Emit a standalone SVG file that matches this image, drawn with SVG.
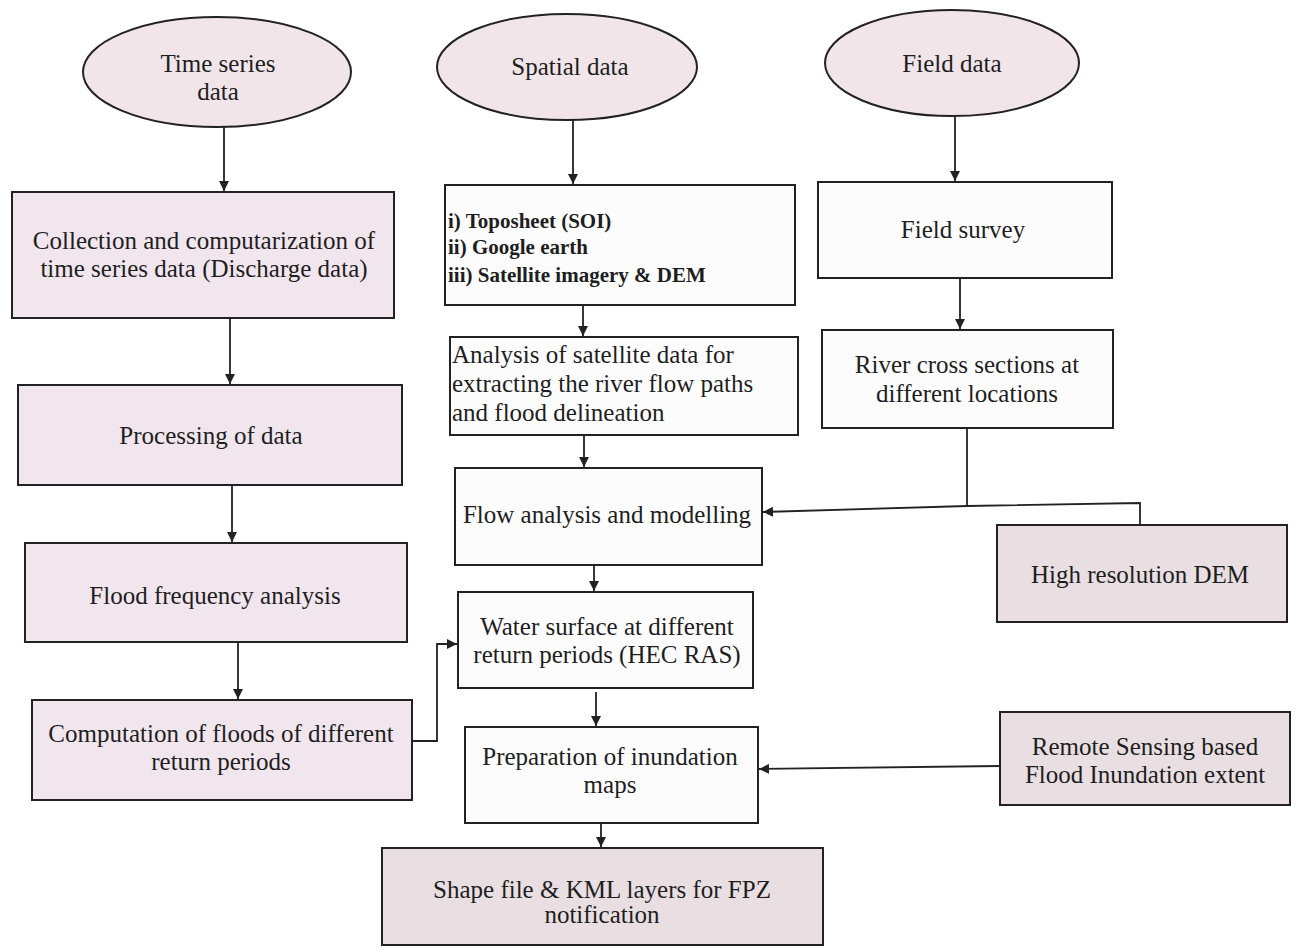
<svg xmlns="http://www.w3.org/2000/svg" width="1298" height="950" viewBox="0 0 1298 950">
<defs>
<style>
.n{stroke:#222;stroke-width:2}
.pk{fill:#f2e6ee}
.el{fill:#f1e5ea}
.gp{fill:#e9dfe2}
.wh{fill:#fdfcfd}
.t{font-family:"Liberation Serif","Times New Roman",serif;font-size:25px;fill:#1e1e1e;text-anchor:middle}
.tl{text-anchor:start}
.tb{font-weight:bold;font-size:21px}
.c{fill:none;stroke:#222;stroke-width:1.8}
</style>
<marker id="ar" viewBox="0 0 10 10" refX="10" refY="5" markerWidth="10" markerHeight="10" markerUnits="userSpaceOnUse" orient="auto">
<path d="M0,0 L10,5 L0,10 z" fill="#222"/>
</marker>
</defs>
<rect width="1298" height="950" fill="#ffffff"/>

<g id="connectors">
<line class="c" x1="224" y1="127" x2="224" y2="191" marker-end="url(#ar)"/>
<line class="c" x1="230" y1="318" x2="230" y2="384" marker-end="url(#ar)"/>
<line class="c" x1="232" y1="485" x2="232" y2="542" marker-end="url(#ar)"/>
<line class="c" x1="238" y1="642" x2="238" y2="699" marker-end="url(#ar)"/>
<polyline class="c" points="412,741 437,741 437,644 457,644" marker-end="url(#ar)"/>
<line class="c" x1="573" y1="120" x2="573" y2="184" marker-end="url(#ar)"/>
<line class="c" x1="583" y1="305" x2="583" y2="336" marker-end="url(#ar)"/>
<line class="c" x1="584" y1="435" x2="584" y2="467" marker-end="url(#ar)"/>
<line class="c" x1="594" y1="565" x2="594" y2="591" marker-end="url(#ar)"/>
<line class="c" x1="596" y1="692" x2="596" y2="726" marker-end="url(#ar)"/>
<line class="c" x1="601" y1="823" x2="601" y2="847" marker-end="url(#ar)"/>
<line class="c" x1="955" y1="117" x2="955" y2="181" marker-end="url(#ar)"/>
<line class="c" x1="960" y1="278" x2="960" y2="329" marker-end="url(#ar)"/>
<line class="c" x1="967" y1="428" x2="967" y2="507"/>
<polyline class="c" points="1140,525 1140,503 967,506 763,512" marker-end="url(#ar)"/>
<line class="c" x1="1000" y1="766" x2="759" y2="769" marker-end="url(#ar)"/>
</g>

<g id="time-series">
<ellipse class="n el" cx="217" cy="72" rx="134" ry="55"/>
<text class="t" x="218" y="72">Time series</text>
<text class="t" x="218" y="100">data</text>
</g>
<g id="spatial">
<ellipse class="n el" cx="567" cy="67" rx="130" ry="53"/>
<text class="t" x="570" y="75">Spatial data</text>
</g>
<g id="field">
<ellipse class="n el" cx="952" cy="63" rx="127" ry="53"/>
<text class="t" x="952" y="72">Field data</text>
</g>

<g id="collection">
<rect class="n pk" x="12" y="192" width="382" height="126"/>
<text class="t" x="204" y="249">Collection and computarization of</text>
<text class="t" x="204" y="277">time series data (Discharge  data)</text>
</g>
<g id="processing">
<rect class="n pk" x="18" y="385" width="384" height="100"/>
<text class="t" x="211" y="444">Processing of data</text>
</g>
<g id="flood-frequency">
<rect class="n pk" x="25" y="543" width="382" height="99"/>
<text class="t" x="215" y="604">Flood frequency analysis</text>
</g>
<g id="computation">
<rect class="n pk" x="32" y="700" width="380" height="100"/>
<text class="t" x="221" y="742">Computation of floods of different</text>
<text class="t" x="221" y="770">return periods</text>
</g>

<g id="toposheet">
<rect class="n wh" x="445" y="185" width="350" height="120"/>
<text class="t tl tb" x="448" y="228">i) Toposheet (SOI)</text>
<text class="t tl tb" x="448" y="254">ii) Google earth</text>
<text class="t tl tb" x="448" y="282">iii) Satellite imagery &amp; DEM</text>
</g>
<g id="analysis">
<rect class="n wh" x="450" y="337" width="348" height="98"/>
<text class="t tl" x="452" y="363">Analysis of satellite data for</text>
<text class="t tl" x="452" y="392">extracting the river flow paths</text>
<text class="t tl" x="452" y="421">and flood delineation</text>
</g>
<g id="flow-analysis">
<rect class="n wh" x="455" y="468" width="307" height="97"/>
<text class="t" x="607" y="523">Flow analysis and modelling</text>
</g>
<g id="water-surface">
<rect class="n wh" x="458" y="592" width="295" height="96"/>
<text class="t" x="607" y="635">Water surface at different</text>
<text class="t" x="607" y="663">return periods (HEC RAS)</text>
</g>
<g id="preparation">
<rect class="n wh" x="465" y="727" width="293" height="96"/>
<text class="t" x="610" y="765">Preparation of inundation</text>
<text class="t" x="610" y="793">maps</text>
</g>
<g id="shape-file">
<rect class="n gp" x="382" y="848" width="441" height="97"/>
<text class="t" x="602" y="898">Shape file &amp; KML layers for FPZ</text>
<text class="t" x="602" y="923">notification</text>
</g>

<g id="field-survey">
<rect class="n wh" x="818" y="182" width="294" height="96"/>
<text class="t" x="963" y="238">Field survey</text>
</g>
<g id="river-cross">
<rect class="n wh" x="822" y="330" width="291" height="98"/>
<text class="t" x="967" y="373">River cross sections at</text>
<text class="t" x="967" y="402">different locations</text>
</g>
<g id="high-res-dem">
<rect class="n gp" x="997" y="525" width="290" height="97"/>
<text class="t" x="1140" y="583">High resolution DEM</text>
</g>
<g id="remote-sensing">
<rect class="n gp" x="1000" y="712" width="290" height="93"/>
<text class="t" x="1145" y="755">Remote Sensing based</text>
<text class="t" x="1145" y="783">Flood Inundation extent</text>
</g>
</svg>
